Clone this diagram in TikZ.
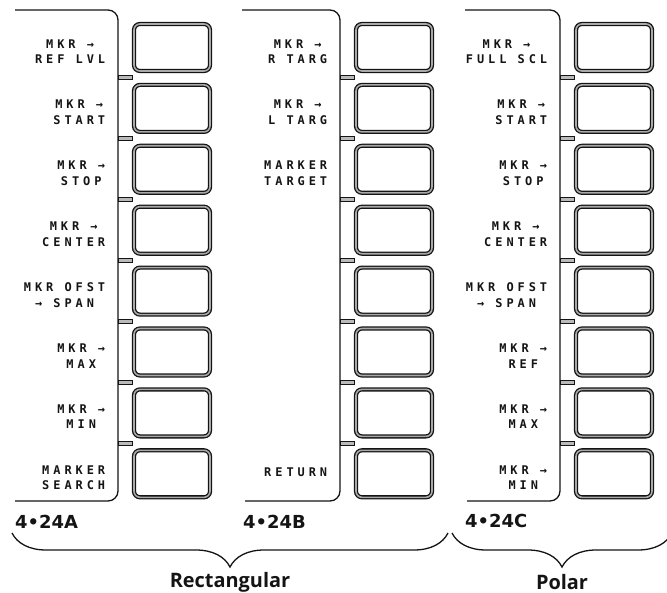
\documentclass[tikz,border=0pt]{standalone}
\usepackage{fontspec}
\usepackage{tikz}
\usetikzlibrary{positioning,calc,decorations.pathreplacing}
\newfontfamily\keyfont[LetterSpace=33]{DejaVu Sans Mono}
\newfontfamily\figfont{DejaVu Sans}
\newfontfamily\capfont{Open Sans}
\definecolor{panelInk}{HTML}{141414}
\definecolor{keyGap}{HTML}{8C8C8C}
\tikzset{
    keyBox/.style={
        rectangle,
        draw=panelInk,
        line width=1.3bp,
        double=keyGap!75,
        double distance=1.6bp,
        rounded corners=6bp,
        minimum width=76bp,
        minimum height=47bp,
        inner sep=0pt
    },
    keyLabel/.style={
        font=\keyfont\bfseries\fontsize{12}{15.5}\selectfont,
        text=panelInk,
        align=center,
        inner sep=0pt
    },
    % Panel outline and tabs
    panelEdge/.style={draw=panelInk, line width=1.3bp, rounded corners=10bp},
    keyTab/.style={draw=panelInk, line width=1bp, fill=keyGap!60},
    % Figure numbers and groups
    figLabel/.style={font=\figfont\bfseries\fontsize{18}{20}\selectfont, text=panelInk, anchor=west, inner sep=0pt},
    groupBrace/.style={draw=panelInk, line width=1.3bp, decorate, decoration={brace, mirror, amplitude=34bp}},
    groupCap/.style={font=\capfont\bfseries\fontsize{20}{22}\selectfont, text=panelInk, inner sep=0pt}
}

\begin{document}
\begin{tikzpicture}[x=1bp, y=-1bp]
\useasboundingbox (0,0) rectangle (667,593);

% Panel outlines
\foreach \v/\s/\b in {118/15/15, 340/242/245, 560/465/467} {
    \draw[panelEdge] (\s,10) -- (\v,10) -- (\v,501) -- (\b,501);
}

% Softkeys and tabs
\foreach \p/\v in {A/118, B/340, C/560} {
    \foreach \i in {1,...,8} {
        \node[keyBox] (k\p\i) at (\v+54, 47.5+60.9*\i-60.9) {};
    }
    \foreach \i in {1,...,7} {
        \draw[keyTab] (\v, 76+60.9*\i-60.9) rectangle ++(14,4);
    }
}

% Key labels
\foreach \p/\i/\t in {A/1/{MKR →\\REF LVL}, A/2/{MKR →\\START}, A/3/{MKR →\\STOP},
    A/4/{MKR →\\CENTER}, A/5/{MKR OFST\\→ SPAN}, A/6/{MKR →\\MAX}, A/7/{MKR →\\MIN},
    A/8/{MARKER\\SEARCH}, B/1/{MKR →\\R TARG}, B/2/{MKR →\\L TARG}, B/3/{MARKER\\TARGET},
    C/1/{MKR →\\FULL SCL}, C/2/{MKR →\\START}, C/3/{MKR →\\STOP}, C/4/{MKR →\\CENTER},
    C/5/{MKR OFST\\→ SPAN}, C/6/{MKR →\\REF}, C/7/{MKR →\\MAX}, C/8/{MKR →\\MIN}} {
    \node[keyLabel, left=28bp of k\p\i, yshift=-4bp] (l\p\i) {\t};
}
\node[keyLabel, left=28bp of kB8, yshift=2bp] (lB8) {RETURN};

% Figure numbers
\node[figLabel] (figA) at (15,522) {4•24A};
\node[figLabel] (figB) at (243,522) {4•24B};
\node[figLabel] (figC) at (465,521) {4•24C};

% Groups
\coordinate (rectL) at (12,533);
\coordinate (rectR) at (448,533);
\coordinate (polL) at (452,533);
\coordinate (polR) at (672,533);
\draw[groupBrace] (rectL) -- (rectR);
\draw[groupBrace] (polL) -- (polR);
\node[groupCap] (capRect) at (230,582) {Rectangular};
\node[groupCap] (capPol) at (562,582) {Polar};
\end{tikzpicture}
\end{document}
